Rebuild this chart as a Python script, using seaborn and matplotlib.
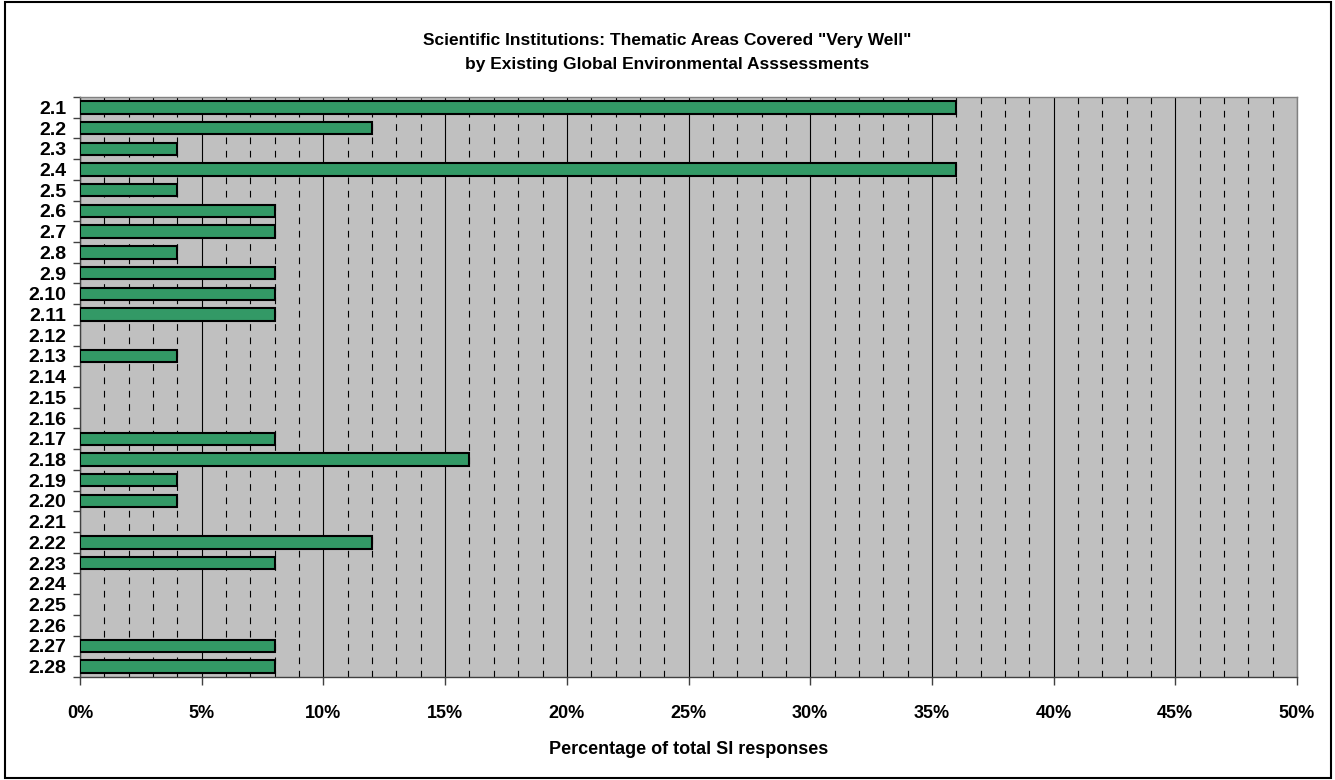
import matplotlib
matplotlib.use("Agg")
import matplotlib.pyplot as plt
import matplotlib.ticker as mticker
import numpy as np
import pandas as pd
import seaborn as sns

# Thematic area codes and share of SI responses (%)
areas = ["2.1", "2.2", "2.3", "2.4", "2.5", "2.6", "2.7", "2.8", "2.9", "2.10",
         "2.11", "2.12", "2.13", "2.14", "2.15", "2.16", "2.17", "2.18", "2.19",
         "2.20", "2.21", "2.22", "2.23", "2.24", "2.25", "2.26", "2.27", "2.28"]
pct = [36, 12, 4, 36, 4, 8, 8, 4, 8, 8,
       8, 0, 4, 0, 0, 0, 8, 16, 4,
       4, 0, 12, 8, 0, 0, 0, 8, 8]

df = pd.DataFrame({"area": areas, "pct": pct})

sns.set_style("white")
plt.rcParams["font.family"] = ["Liberation Sans", "DejaVu Sans"]
plt.rcParams["font.weight"] = "bold"
plt.rcParams["text.color"] = "black"
plt.rcParams["xtick.labelcolor"] = "black"
plt.rcParams["ytick.labelcolor"] = "black"
plt.rcParams["axes.labelcolor"] = "black"

fig = plt.figure(figsize=(13.35, 7.8), dpi=100)
ax = fig.add_axes([0.060, 0.132, 0.9115, 0.7436])

sns.barplot(data=df, x="pct", y="area", orient="h", color="#339966",
            edgecolor="black", linewidth=1.5, width=0.6, saturation=1, ax=ax, zorder=3)

# empty categories: no outline at zero
for bar in ax.patches:
    if bar.get_width() == 0:
        bar.set_linewidth(0)

ax.set_facecolor("#C0C0C0")
ax.set_xlim(0, 50)
ax.set_ylim(len(areas) - 0.5, -0.5)

ax.xaxis.set_major_locator(mticker.MultipleLocator(5))
ax.xaxis.set_minor_locator(mticker.MultipleLocator(1))
ax.xaxis.set_major_formatter(mticker.FuncFormatter(lambda v, p: f"{v:.0f}%"))
ax.grid(axis="x", which="major", color="black", linewidth=0.8, linestyle="-", zorder=1)
ax.grid(axis="x", which="minor", color="black", linewidth=0.8, linestyle=(0, (6, 6)), zorder=1)
ax.set_axisbelow(True)

# y ticks at category boundaries, like the spreadsheet
ax.set_yticks(np.arange(len(areas) + 1) - 0.5, minor=True)
ax.tick_params(left=True, bottom=True, which="both")
ax.tick_params(axis="y", which="major", length=0, labelsize=14, pad=10)
ax.tick_params(axis="y", which="minor", length=5, direction="out", width=1, color="#404040")
ax.tick_params(axis="x", which="major", length=6, direction="out", width=1,
               color="#404040", labelsize=13, pad=14)
ax.tick_params(axis="x", which="minor", length=0)
for lab in ax.get_yticklabels() + ax.get_xticklabels():
    lab.set_fontweight("bold")

for side in ["left", "bottom"]:
    ax.spines[side].set_color("#404040")
    ax.spines[side].set_linewidth(1)
for side in ["top", "right"]:
    ax.spines[side].set_color("#808080")
    ax.spines[side].set_linewidth(1)

ax.set_ylabel("")
ax.set_xlabel("Percentage of total SI responses", fontsize=13, fontweight="bold", labelpad=14)

fig.text(0.5, 0.933, 'Scientific Institutions: Thematic Areas Covered "Very Well"\n'
         'by Existing Global Environmental Asssessments',
         ha="center", va="center", fontsize=12.5, fontweight="bold", linespacing=1.75)

# outer chart border
fig.patches.append(plt.Rectangle((0.004, 0.003), 0.993, 0.994, transform=fig.transFigure,
                                 fill=False, edgecolor="black", linewidth=1.5))

fig.savefig("out.png", dpi=100)
